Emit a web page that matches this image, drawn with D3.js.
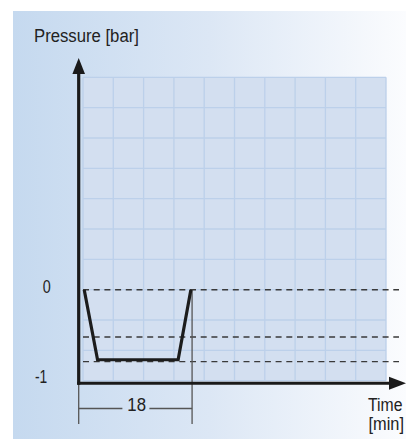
<!DOCTYPE html>
<html><head><meta charset="utf-8">
<script src="https://cdn.jsdelivr.net/npm/d3@7"></script>
<style>
html,body{margin:0;padding:0;background:#fff;}
svg{display:block;}
text{font-family:"Liberation Sans",Arial,sans-serif;fill:#222;}
</style></head>
<body>
<svg id="c" width="406" height="439"></svg>
<script>
// ---- data ----
const timeMin = [0.2, 2.4, 15.7, 17.8];
const pressureBar = [0, -0.77, -0.77, 0];
const refLevels = [0, -0.52, -0.79];
const yTickValues = [0, -1];
const yTickLabels = ["0", "-1"];
const spanMinutes = 18;
const spanLabel = "18";
const yTitle = "Pressure [bar]";
const xTitle = ["Time", "[min]"];

const svg = d3.select("#c");
const defs = svg.append("defs");
const g = defs.append("linearGradient").attr("id","bg").attr("x1","0").attr("x2","1").attr("y1","0").attr("y2","0");
g.append("stop").attr("offset","0").attr("stop-color","#c5d9ef");
g.append("stop").attr("offset","0.5").attr("stop-color","#dce7f5");
g.append("stop").attr("offset","1").attr("stop-color","#fbfcfe");
svg.append("rect").attr("x",13).attr("y",11).attr("width",393).attr("height",428).attr("fill","url(#bg)");

const x = d3.scaleLinear().domain([0,50]).range([83,386]);
const y = d3.scaleLinear().domain([-1,7/3]).range([380.7,77.3]);

// grid
svg.append("rect").attr("x",x(0)).attr("y",y(7/3)).attr("width",x(50)-x(0)).attr("height",y(-1)-y(7/3)).attr("fill","#d3dff0");
const gx = d3.range(0,51,5), gy = d3.range(0,11).map(i=>-1+i/3);
svg.append("g").selectAll("line").data(gx).join("line")
  .attr("x1",d=>x(d)).attr("x2",d=>x(d)).attr("y1",y(7/3)).attr("y2",y(-1))
  .attr("stroke","#bcd0ea").attr("stroke-width",1.3);
svg.append("g").selectAll("line").data(gy).join("line")
  .attr("x1",x(0)).attr("x2",x(50)).attr("y1",d=>y(d)).attr("y2",d=>y(d))
  .attr("stroke","#bcd0ea").attr("stroke-width",1.3);

// dashed reference levels
svg.append("g").selectAll("line").data(refLevels).join("line")
  .attr("x1",x(0)).attr("x2",399).attr("y1",d=>y(d)).attr("y2",d=>y(d))
  .attr("stroke","#3a3a3a").attr("stroke-width",1.4).attr("stroke-dasharray","6,4.7");

// dimension lines
const axX = 78.7, axY = 383.3;
svg.append("line").attr("x1",axX).attr("x2",axX).attr("y1",axY).attr("y2",424).attr("stroke","#555").attr("stroke-width",1.3);
svg.append("line").attr("x1",x(spanMinutes)).attr("x2",x(spanMinutes)).attr("y1",y(0)).attr("y2",424).attr("stroke","#555").attr("stroke-width",1.3);
const midX = (axX + x(spanMinutes))/2;
svg.append("line").attr("x1",axX).attr("x2",midX-13).attr("y1",408.5).attr("y2",408.5).attr("stroke","#555").attr("stroke-width",1.3);
svg.append("line").attr("x1",midX+14).attr("x2",x(spanMinutes)).attr("y1",408.5).attr("y2",408.5).attr("stroke","#555").attr("stroke-width",1.3);

// condensed text helper: scale horizontally to a target width
function narrowText(str, tx, ty, w){
  const t = svg.append("text").attr("font-size",19).attr("x",0).attr("y",0).text(str);
  const nat = t.node().getComputedTextLength();
  t.attr("transform",`translate(${tx},${ty}) scale(${w/nat},1)`);
  return t;
}

narrowText(spanLabel, 127.3, 411, 18.7);

// pressure curve
const line = d3.line().x((d,i)=>x(timeMin[i])).y((d,i)=>y(pressureBar[i]));
svg.append("path").datum(timeMin).attr("d",line).attr("fill","none").attr("stroke","#1c1c1c").attr("stroke-width",3.2).attr("stroke-linejoin","miter");

// axes
svg.append("line").attr("x1",axX).attr("x2",axX).attr("y1",axY+1.5).attr("y2",72).attr("stroke","#1a1a1a").attr("stroke-width",3.2);
svg.append("path").attr("d",`M${axX},58 L${axX-6.3},74 L${axX+6.3},74 Z`).attr("fill","#1a1a1a");
svg.append("line").attr("x1",axX-1.5).attr("x2",392).attr("y1",axY).attr("y2",axY).attr("stroke","#1a1a1a").attr("stroke-width",3);
svg.append("path").attr("d",`M406,${axY} L389,${axY-6.5} L389,${axY+6.5} Z`).attr("fill","#1a1a1a");

// labels
narrowText(yTitle, 34, 41.5, 105);
const tickX = [42.7, 35], tickW = [8, 12.3];
yTickValues.forEach((d,i)=>narrowText(yTickLabels[i], tickX[i], y(d)+(d===0?3.6:2.6), tickW[i]));
narrowText(xTitle[0], 368, 410.7, 34.5);
narrowText(xTitle[1], 368.5, 430, 35.5);
</script>
</body></html>
